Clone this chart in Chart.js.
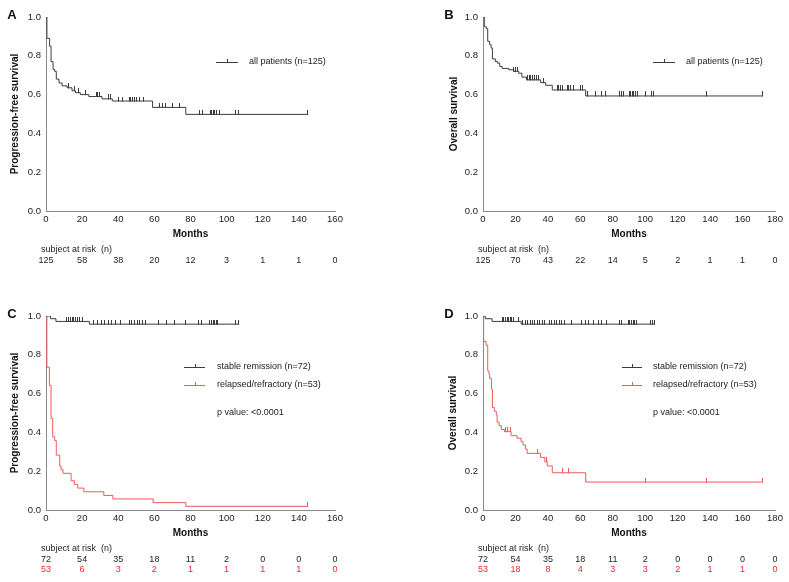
<!DOCTYPE html>
<html>
<head>
<meta charset="utf-8">
<script src="https://cdn.jsdelivr.net/npm/chart.js@4.4.1/dist/chart.umd.min.js"></script>
<style>
  html, body { margin: 0; padding: 0; background: #fff; }
  body { width: 789px; height: 582px; position: relative; overflow: hidden; }
  canvas { position: absolute; }
</style>
</head>
<body>
<canvas id="pA" width="394" height="290" style="left:0;top:0"></canvas>
<canvas id="pB" width="395" height="290" style="left:394px;top:0"></canvas>
<canvas id="pC" width="394" height="292" style="left:0;top:290px"></canvas>
<canvas id="pD" width="395" height="292" style="left:394px;top:290px"></canvas>
<script>
Chart.defaults.font.family = '"Liberation Sans", Arial, sans-serif';
Chart.defaults.color = '#222';

const GRAY = '#3c3c3c';
const RED = '#f05a5a';
const RED_TXT = '#f02828';

// A - progression-free survival, all patients
const pfsAllT = [0, 0.5, 2, 2.8, 3.9, 4.8, 5.7, 7.2, 8.9, 11.7, 14.4, 16.3, 19, 23.7, 31, 36.7, 59, 77.4];
const pfsAllS = [1, 0.89, 0.85, 0.77, 0.73, 0.72, 0.68, 0.66, 0.645, 0.635, 0.62, 0.61, 0.6, 0.59, 0.578, 0.567, 0.534, 0.498];
const pfsAllEnd = 145;
const pfsAllCens = [12.6, 15.7, 18, 22, 27.8, 28.7, 29.6, 34.8, 35.7, 40.4, 42.2, 46, 47, 48, 49, 50, 52, 54,
  62.6, 64.4, 66.3, 70, 74, 85, 86.6, 91, 91.6, 92.5, 93.4, 94.3, 96, 105, 106.5, 145];
const pfsAllRisk = [125, 58, 38, 20, 12, 3, 1, 1, 0];

// B - overall survival, all patients
const osAllT = [0, 0.8, 2, 2.9, 4.1, 5, 5.8, 7.6, 9, 10.3, 11.8, 15.9, 19, 22, 24, 26.8, 35.5, 38.6, 42.7, 63.3];
const osAllS = [1, 0.95, 0.94, 0.875, 0.857, 0.84, 0.784, 0.77, 0.762, 0.745, 0.735, 0.728, 0.72, 0.71, 0.69, 0.676, 0.662, 0.648, 0.624, 0.593];
const osAllEnd = 172.4;
const osAllCens = [19, 20, 21, 27.5, 28.5, 29.5, 30.5, 32, 33, 34, 37.5, 45.8, 46.8, 47.8, 48.9, 52, 53, 54, 56,
  60.2, 61.2, 64.3, 69.5, 73, 75.4, 84.4, 85.5, 86.5, 90, 91, 92, 93, 94, 95, 99.9, 104, 105.4, 137.8, 172.4];
const osAllRisk = [125, 70, 43, 22, 14, 5, 2, 1, 1, 0];

// C - progression-free survival by group
const pfsRemT = [0, 2.5, 5.5, 24];
const pfsRemS = [1, 0.986, 0.972, 0.958];
const pfsRemEnd = 106.8;
const pfsRemCens = [11.5, 12.5, 13.5, 14.5, 15.5, 16.5, 17.5, 18.5, 20, 26.5, 28.5, 30.5, 32.5, 34.5, 36.5, 38.5, 41,
  46, 47.5, 49, 50.5, 52, 53.5, 55, 62.5, 66.5, 71, 77, 84.7, 86, 90.6, 91.5, 92.5, 93.4, 94.3, 95.2, 105, 106.8];
const pfsRelT = [0, 0.5, 1.9, 2.8, 3.7, 4.8, 5.7, 7.6, 8.3, 9.4, 13.9, 15.7, 17.6, 20.9, 32, 37, 59.3, 77.4];
const pfsRelS = [1, 0.736, 0.642, 0.472, 0.377, 0.358, 0.283, 0.226, 0.208, 0.189, 0.151, 0.132, 0.113, 0.094, 0.075, 0.057, 0.038, 0.019];
const pfsRelEnd = 145;
const pfsRelCens = [145];
const pfsRemRisk = [72, 54, 35, 18, 11, 2, 0, 0, 0];
const pfsRelRisk = [53, 6, 3, 2, 1, 1, 1, 1, 0];

// D - overall survival by group
const osRemT = [0, 1.4, 5.6, 23.5];
const osRemS = [1, 0.986, 0.972, 0.958];
const osRemEnd = 106;
const osRemCens = [11.8, 12.8, 13.8, 14.8, 15.8, 16.8, 17.8, 19, 22, 24.5, 26, 27.5, 29, 30.5, 32, 33.5, 35, 36.5, 38,
  41, 42.5, 44, 45.5, 47, 48.5, 50, 54.5, 61, 63, 65, 68, 71, 73.3, 76, 84, 85.5, 89.5, 90.5, 91.5, 92.5, 93.5, 94.8,
  103, 104.7, 106];
const osRelT = [0, 0.4, 1.9, 2.9, 3.7, 4.1, 5.2, 5.8, 7, 8.2, 8.7, 9.9, 11.3, 13.2, 17.3, 21, 23.5, 24.7, 26.2, 27.2,
  35.5, 38.1, 39.6, 42.7, 63.3];
const osRelS = [1, 0.868, 0.849, 0.717, 0.698, 0.679, 0.623, 0.528, 0.509, 0.49, 0.453, 0.434, 0.415, 0.404, 0.383,
  0.37, 0.352, 0.335, 0.314, 0.292, 0.271, 0.249, 0.227, 0.192, 0.144];
const osRelEnd = 172.4;
const osRelCens = [14, 15.3, 17, 33.8, 39, 48.9, 53, 100, 138, 172.4];
const osRemRisk = [72, 54, 35, 18, 11, 2, 0, 0, 0, 0];
const osRelRisk = [53, 18, 8, 4, 3, 3, 2, 1, 1, 0];

// survival level of a step curve at time t
function levelAt(times, surv, t) {
  let s = surv[0];
  for (let i = 0; i < times.length; i++) {
    if (times[i] <= t) s = surv[i];
  }
  return s;
}

// small upward tick for censored cases
function tickMark(color) {
  const c = document.createElement('canvas');
  c.width = 1;
  c.height = 9;
  const g = c.getContext('2d');
  g.fillStyle = color;
  g.fillRect(0, 0, 1, 5);
  return c;
}

function drawExtras(chart, p) {
  const ctx = chart.ctx;
  const area = chart.chartArea;
  const x = chart.scales.x;
  ctx.save();

  ctx.font = 'bold 13px "Liberation Sans", Arial';
  ctx.fillStyle = '#111';
  ctx.textAlign = 'center';
  ctx.textBaseline = 'middle';
  ctx.fillText(p.letter, area.left - 34, area.top - 2);

  // legend
  ctx.font = '9px "Liberation Sans", Arial';
  ctx.textAlign = 'left';
  p.legend.forEach(item => {
    ctx.strokeStyle = item.color;
    ctx.lineWidth = 1;
    ctx.beginPath();
    ctx.moveTo(p.legendLine[0], item.y + 0.5);
    ctx.lineTo(p.legendLine[1], item.y + 0.5);
    const mid = Math.round((p.legendLine[0] + p.legendLine[1]) / 2) + 0.5;
    ctx.moveTo(mid, item.y + 0.5);
    ctx.lineTo(mid, item.y - 3);
    ctx.stroke();
    ctx.fillStyle = '#222';
    ctx.fillText(item.text, p.legendTextX, item.y);
  });
  if (p.note) {
    ctx.fillStyle = '#222';
    ctx.fillText(p.note.text, p.legendTextX, p.note.y);
  }

  // number at risk
  ctx.fillStyle = '#222';
  ctx.fillText('subject at risk  (n)', area.left - 5, area.bottom + 39);
  ctx.textAlign = 'center';
  p.risk.forEach((row, r) => {
    ctx.fillStyle = row.color;
    row.values.forEach((v, i) => {
      ctx.fillText(String(v), x.getPixelForValue(i * 20), area.bottom + 50 + r * 10);
    });
  });
  ctx.restore();
}

function kmChart(id, p) {
  const datasets = [];
  p.groups.forEach(g => {
    const pts = g.t.map((t, i) => ({x: t, y: g.s[i]}));
    pts.push({x: g.end, y: g.s[g.s.length - 1]});
    datasets.push({
      data: pts,
      showLine: true,
      stepped: true,
      borderColor: g.color,
      borderWidth: 1,
      pointRadius: 0,
      fill: false
    });
    datasets.push({
      data: g.cens.map(t => ({x: t, y: levelAt(g.t, g.s, t)})),
      showLine: false,
      pointStyle: tickMark(g.color),
      pointRadius: 3,
      pointHoverRadius: 3
    });
  });

  return new Chart(document.getElementById(id), {
    type: 'scatter',
    data: {datasets: datasets},
    options: {
      responsive: false,
      animation: false,
      devicePixelRatio: 1,
      events: [],
      layout: {padding: p.pad},
      plugins: {legend: {display: false}, tooltip: {enabled: false}},
      scales: {
        x: {
          min: 0,
          max: p.xMax,
          afterFit: s => { s.height = 36; s.paddingLeft = 0; s.paddingRight = 0; },
          ticks: {stepSize: 20, autoSkip: false, maxRotation: 0, padding: 3, font: {size: 9.5}, color: '#222'},
          grid: {display: false, drawTicks: false},
          border: {color: '#8a8a8a', width: 1},
          title: {display: true, text: 'Months', color: '#111', font: {size: 10, weight: 'bold'}, padding: {top: 0, bottom: 7}}
        },
        y: {
          min: 0,
          max: 1,
          afterFit: s => { s.width = 46; },
          ticks: {stepSize: 0.2, callback: v => v.toFixed(1), padding: 5, font: {size: 9.5}, color: '#222'},
          grid: {display: false, drawTicks: false},
          border: {color: '#8a8a8a', width: 1},
          title: {display: true, text: p.yTitle, color: '#111', font: {size: 10, weight: 'bold'}, padding: {top: p.yTitlePad, bottom: 0}}
        }
      }
    },
    plugins: [{id: 'kmExtras', afterDraw: chart => drawExtras(chart, p)}]
  });
}

kmChart('pA', {
  letter: 'A', xMax: 160, yTitle: 'Progression-free survival', yTitlePad: 9,
  pad: {left: 0, top: 17, right: 59, bottom: 43},
  groups: [{t: pfsAllT, s: pfsAllS, end: pfsAllEnd, cens: pfsAllCens, color: GRAY}],
  legendLine: [216, 238], legendTextX: 249,
  legend: [{text: 'all patients (n=125)', color: GRAY, y: 62}],
  risk: [{values: pfsAllRisk, color: '#222'}]
});

kmChart('pB', {
  letter: 'B', xMax: 180, yTitle: 'Overall survival', yTitlePad: 11,
  pad: {left: 43, top: 17, right: 14, bottom: 43},
  groups: [{t: osAllT, s: osAllS, end: osAllEnd, cens: osAllCens, color: GRAY}],
  legendLine: [259, 281], legendTextX: 292,
  legend: [{text: 'all patients (n=125)', color: GRAY, y: 62}],
  risk: [{values: osAllRisk, color: '#222'}]
});

kmChart('pC', {
  letter: 'C', xMax: 160, yTitle: 'Progression-free survival', yTitlePad: 9,
  pad: {left: 0, top: 26, right: 59, bottom: 36},
  groups: [
    {t: pfsRemT, s: pfsRemS, end: pfsRemEnd, cens: pfsRemCens, color: GRAY},
    {t: pfsRelT, s: pfsRelS, end: pfsRelEnd, cens: pfsRelCens, color: RED}
  ],
  legendLine: [184, 205], legendTextX: 217,
  legend: [
    {text: 'stable remission (n=72)', color: GRAY, y: 77},
    {text: 'relapsed/refractory (n=53)', color: RED, y: 95}
  ],
  note: {text: 'p value: <0.0001', y: 123},
  risk: [{values: pfsRemRisk, color: '#222'}, {values: pfsRelRisk, color: RED_TXT}]
});

kmChart('pD', {
  letter: 'D', xMax: 180, yTitle: 'Overall survival', yTitlePad: 10,
  pad: {left: 43, top: 26, right: 14, bottom: 36},
  groups: [
    {t: osRemT, s: osRemS, end: osRemEnd, cens: osRemCens, color: GRAY},
    {t: osRelT, s: osRelS, end: osRelEnd, cens: osRelCens, color: RED}
  ],
  legendLine: [228, 248], legendTextX: 259,
  legend: [
    {text: 'stable remission (n=72)', color: GRAY, y: 77},
    {text: 'relapsed/refractory (n=53)', color: RED, y: 95}
  ],
  note: {text: 'p value: <0.0001', y: 123},
  risk: [{values: osRemRisk, color: '#222'}, {values: osRelRisk, color: RED_TXT}]
});
</script>
</body>
</html>
